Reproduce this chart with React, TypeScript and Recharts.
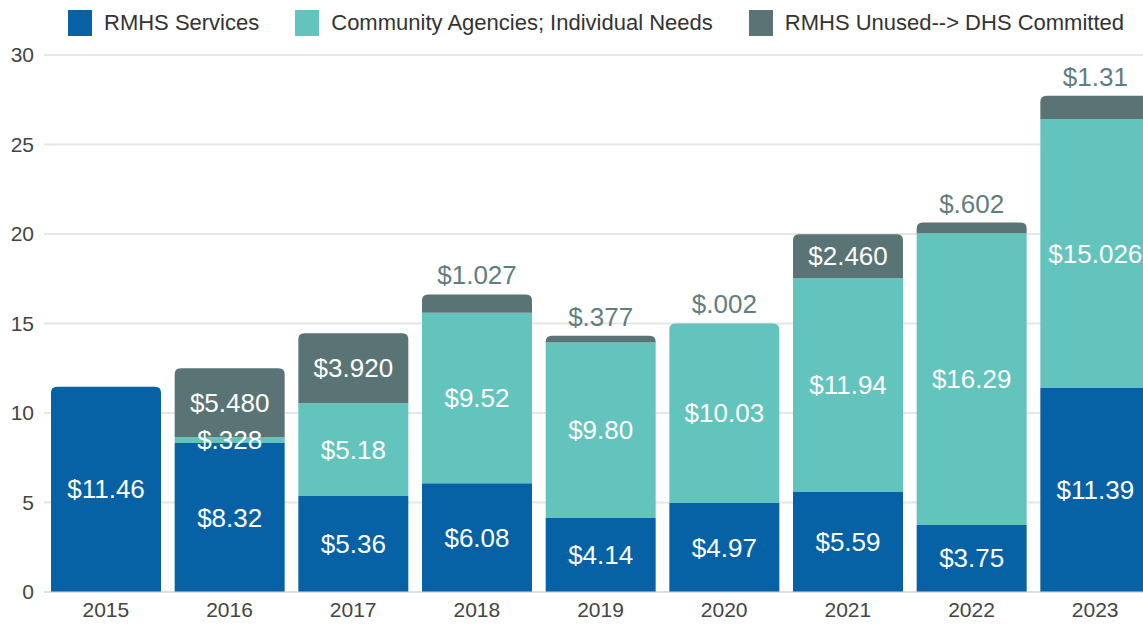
import React from 'react';
import { BarChart, Bar, XAxis, YAxis, CartesianGrid, Legend, LabelList } from 'recharts';

const years = ['2015', '2016', '2017', '2018', '2019', '2020', '2021', '2022', '2023'];
const rmhsServices = [11.46, 8.32, 5.36, 6.08, 4.14, 4.97, 5.59, 3.75, 11.39];
const communityAgencies = [0, 0.328, 5.18, 9.52, 9.8, 10.03, 11.94, 16.29, 15.026];
const rmhsUnused = [0, 3.85, 3.92, 1.027, 0.377, 0.002, 2.46, 0.602, 1.31];
const rmhsLabels = ['$11.46', '$8.32', '$5.36', '$6.08', '$4.14', '$4.97', '$5.59', '$3.75', '$11.39'];
const communityLabels = ['', '$.328', '$5.18', '$9.52', '$9.80', '$10.03', '$11.94', '$16.29', '$15.026'];
const unusedLabels = ['', '$5.480', '$3.920', '$1.027', '$.377', '$.002', '$2.460', '$.602', '$1.31'];
const yTicks = [0, 5, 10, 15, 20, 25, 30];

const seriesNames = ['RMHS Services', 'Community Agencies; Individual Needs', 'RMHS Unused--> DHS Committed'];
const seriesKeys = ['rmhs', 'community', 'unused'];
const colors = ['#0762a5', '#63c4bd', '#5a7475'];
const topLabelColor = '#5f7e7e';
const FONT = '"Liberation Sans", Arial, Helvetica, sans-serif';

const data = years.map((year, i) => {
  const vals = [rmhsServices[i], communityAgencies[i], rmhsUnused[i]];
  let topKey = seriesKeys[0];
  vals.forEach((v, k) => {
    if (v > 0.01) topKey = seriesKeys[k];
  });
  return {
    year,
    rmhs: rmhsServices[i],
    community: communityAgencies[i],
    unused: rmhsUnused[i],
    rmhsLabel: rmhsLabels[i],
    communityLabel: communityLabels[i],
    unusedLabel: unusedLabels[i],
    topKey,
  };
});

const makeShape = (key: string) => (props: any) => {
  const { x, y, width, height, fill, payload, index } = props;
  if (!height || height <= 0 || !width) return <g />;
  const entry = payload && payload.topKey ? payload : data[index];
  const isTop = entry && entry.topKey === key;
  const r = isTop ? Math.min(6, height) : 0;
  const d = `M${x},${y + height} L${x},${y + r} Q${x},${y} ${x + r},${y} L${x + width - r},${y} Q${x + width},${y} ${x + width},${y + r} L${x + width},${y + height} Z`;
  return <path d={d} fill={fill} />;
};

const insideLabel = (props: any) => {
  const { x, y, width, height, value } = props;
  if (!value || !height || height < 1) return null;
  return (
    <text
      x={x + width / 2}
      y={y + height / 2}
      textAnchor="middle"
      dominantBaseline="central"
      fill="#ffffff"
      fontSize={26}
      fontFamily={FONT}
    >
      {value}
    </text>
  );
};

const unusedLabelRender = (props: any) => {
  const { x, y, width, height, value } = props;
  if (!value) return null;
  const inside = height > 30;
  return (
    <text
      x={x + width / 2}
      y={inside ? y + height / 2 : y - 19}
      textAnchor="middle"
      dominantBaseline="central"
      fill={inside ? '#ffffff' : topLabelColor}
      fontSize={26}
      fontFamily={FONT}
    >
      {value}
    </text>
  );
};

const LegendContent = () => (
  <div style={{ height: 55, position: 'relative', fontFamily: FONT }}>
    <div style={{ display: 'flex', alignItems: 'center', paddingLeft: 68, paddingTop: 10 }}>
      {seriesNames.map((name, i) => (
        <div key={name} style={{ display: 'flex', alignItems: 'center', marginRight: 36 }}>
          <div style={{ width: 24, height: 26, background: colors[i], marginRight: 12 }} />
          <span style={{ fontSize: 22, color: '#333333', whiteSpace: 'nowrap' }}>{name}</span>
        </div>
      ))}
    </div>
  </div>
);

export default function App() {
  return (
    <div
      style={{
        position: 'absolute',
        left: 0,
        top: 0,
        width: 1143,
        height: 626,
        overflow: 'hidden',
        background: '#ffffff',
      }}
    >
      <BarChart
        width={1157}
        height={626}
        data={data}
        margin={{ top: 0, right: 0, bottom: 4, left: 0 }}
        barCategoryGap={7}
      >
        <CartesianGrid vertical={false} stroke="#e6e6e6" strokeWidth={2} />
        <XAxis
          dataKey="year"
          axisLine={{ stroke: '#d9d9d9' }}
          tickLine={false}
          tickSize={0}
          tickMargin={10}
          height={30}
          tick={{ fill: '#444444', fontSize: 21, fontFamily: FONT }}
        />
        <YAxis
          width={44}
          domain={[0, 30]}
          ticks={yTicks}
          axisLine={false}
          tickLine={false}
          tickSize={0}
          tickMargin={10}
          tick={{ fill: '#444444', fontSize: 21, fontFamily: FONT }}
        />
        <Legend verticalAlign="top" align="left" content={<LegendContent />} wrapperStyle={{ top: 0, left: 0 }} />
        <Bar dataKey="rmhs" name={seriesNames[0]} stackId="a" fill={colors[0]} isAnimationActive={false} shape={makeShape('rmhs')}>
          <LabelList dataKey="rmhsLabel" content={insideLabel} />
        </Bar>
        <Bar dataKey="community" name={seriesNames[1]} stackId="a" fill={colors[1]} isAnimationActive={false} shape={makeShape('community')}>
          <LabelList dataKey="communityLabel" content={insideLabel} />
        </Bar>
        <Bar dataKey="unused" name={seriesNames[2]} stackId="a" fill={colors[2]} isAnimationActive={false} shape={makeShape('unused')}>
          <LabelList dataKey="unusedLabel" content={unusedLabelRender} />
        </Bar>
      </BarChart>
    </div>
  );
}
